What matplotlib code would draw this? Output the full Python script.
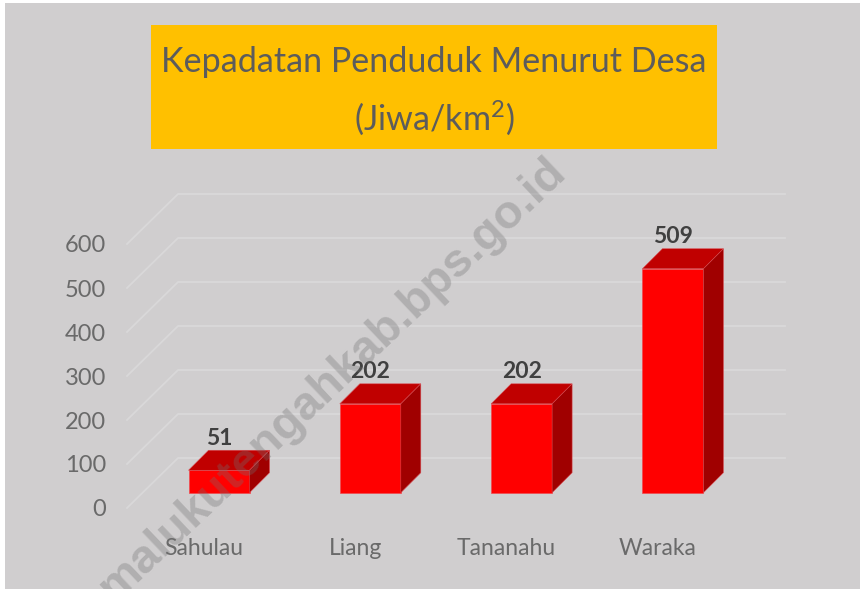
import numpy as np
import matplotlib
matplotlib.use("Agg")
import matplotlib.pyplot as plt
from matplotlib.patches import Polygon, Rectangle

desa = ["Sahulau", "Liang", "Tananahu", "Waraka"]
kepadatan = [51, 202, 202, 509]
y_ticks = [0, 100, 200, 300, 400, 500, 600]
title_lines = ["Kepadatan Penduduk Menurut Desa", "(Jiwa/km$^{2}$)"]
watermark = "malukutengahkab.bps.go.id"

W, H = 863, 589
plt.rcParams["font.family"] = ["Lato", "DejaVu Sans"]
plt.rcParams["mathtext.default"] = "regular"

fig = plt.figure(figsize=(W / 100, H / 100), dpi=100, facecolor="white")

# grey panel and title box, in pixels from the top left
px = lambda x, y, w, h: (x / W, 1 - (y + h) / H, w / W, h / H)
l, b, w_, h_ = px(5, 3, 855, 586)
fig.patches.append(Rectangle((l, b), w_, h_, transform=fig.transFigure, fc="#d0cecf", ec="none", zorder=-2))
l, b, w_, h_ = px(151, 25, 566, 124)
fig.patches.append(Rectangle((l, b), w_, h_, transform=fig.transFigure, fc="#ffc000", ec="none", zorder=-1))
fig.text(434 / W, 1 - 62 / H, title_lines[0], ha="center", va="center", fontsize=24.6, color="#5c5c5c")
fig.text(434 / W, 1 - 118 / H, title_lines[1], ha="center", va="center", fontsize=24.6, color="#5c5c5c")

# axes: x in categories, y in data units, bar front base is y=0
px_per_cat = 151.3
px_per_unit = 0.44
x0_px, base_px = 219.0, 492.7
left_px, right_px, top_px, bottom_px = 127, 785, 170, 509
ax = fig.add_axes(px(left_px, top_px, right_px - left_px, bottom_px - top_px))
ax.set_xlim((left_px - x0_px) / px_per_cat, (right_px - x0_px) / px_per_cat)
ax.set_ylim((base_px - bottom_px) / px_per_unit, (base_px - top_px) / px_per_unit)
ax.patch.set_alpha(0)
for s in ax.spines.values():
    s.set_visible(False)

x = np.arange(len(desa))
bar_w = 61 / px_per_cat
depth_x, depth_y = 20 / px_per_cat, 20 / px_per_unit

# 3d wall: front edge is below the bars, back edge above them
wall_front_x, wall_back_x = ax.get_xlim()[0], (178 - x0_px) / px_per_cat
wall_front_y, wall_back_y = (base_px - 508) / px_per_unit, (base_px - 458) / px_per_unit
for t in y_ticks:
    ax.plot(
        [wall_front_x, wall_back_x, ax.get_xlim()[1]],
        [t + wall_front_y, t + wall_back_y, t + wall_back_y],
        color="#d9d8d9", lw=1.3, zorder=1, clip_on=False,
    )

ax.bar(x, kepadatan, width=bar_w, color="#ff0000", edgecolor="#f04a50", lw=0.5, zorder=3)
for xi, v in zip(x, kepadatan):
    x1, x2 = xi - bar_w / 2, xi + bar_w / 2
    ax.add_patch(Polygon(
        [(x1, v), (x2, v), (x2 + depth_x, v + depth_y), (x1 + depth_x, v + depth_y)],
        fc="#c00000", ec="#d84a50", lw=0.4, zorder=3))
    ax.add_patch(Polygon(
        [(x2, 0), (x2 + depth_x, depth_y), (x2 + depth_x, v + depth_y), (x2, v)],
        fc="#a00000", ec="#d84a50", lw=0.4, zorder=3))
    ax.text(xi, v + depth_y + 12 / px_per_unit, str(v), ha="center", va="center",
            fontsize=16.5, fontweight="bold", color="#404040", zorder=4)

ax.set_yticks(np.array(y_ticks) + wall_front_y, [str(t) for t in y_ticks])
ax.set_xticks(x - 15 / px_per_cat, desa)
ax.tick_params(axis="y", length=0, pad=15, labelsize=17, labelcolor="#6a6a6a")
ax.tick_params(axis="x", length=0, pad=21, labelsize=16.5, labelcolor="#6a6a6a")

wm = fig.text(333 / W, 1 - 379 / H, watermark, rotation=43.4, ha="center", va="center",
              rotation_mode="anchor", fontsize=34, fontweight="bold", family="Liberation Sans",
              color="#707070", alpha=0.33, zorder=10)

fig.savefig("out.png", dpi=100, facecolor=fig.get_facecolor())
